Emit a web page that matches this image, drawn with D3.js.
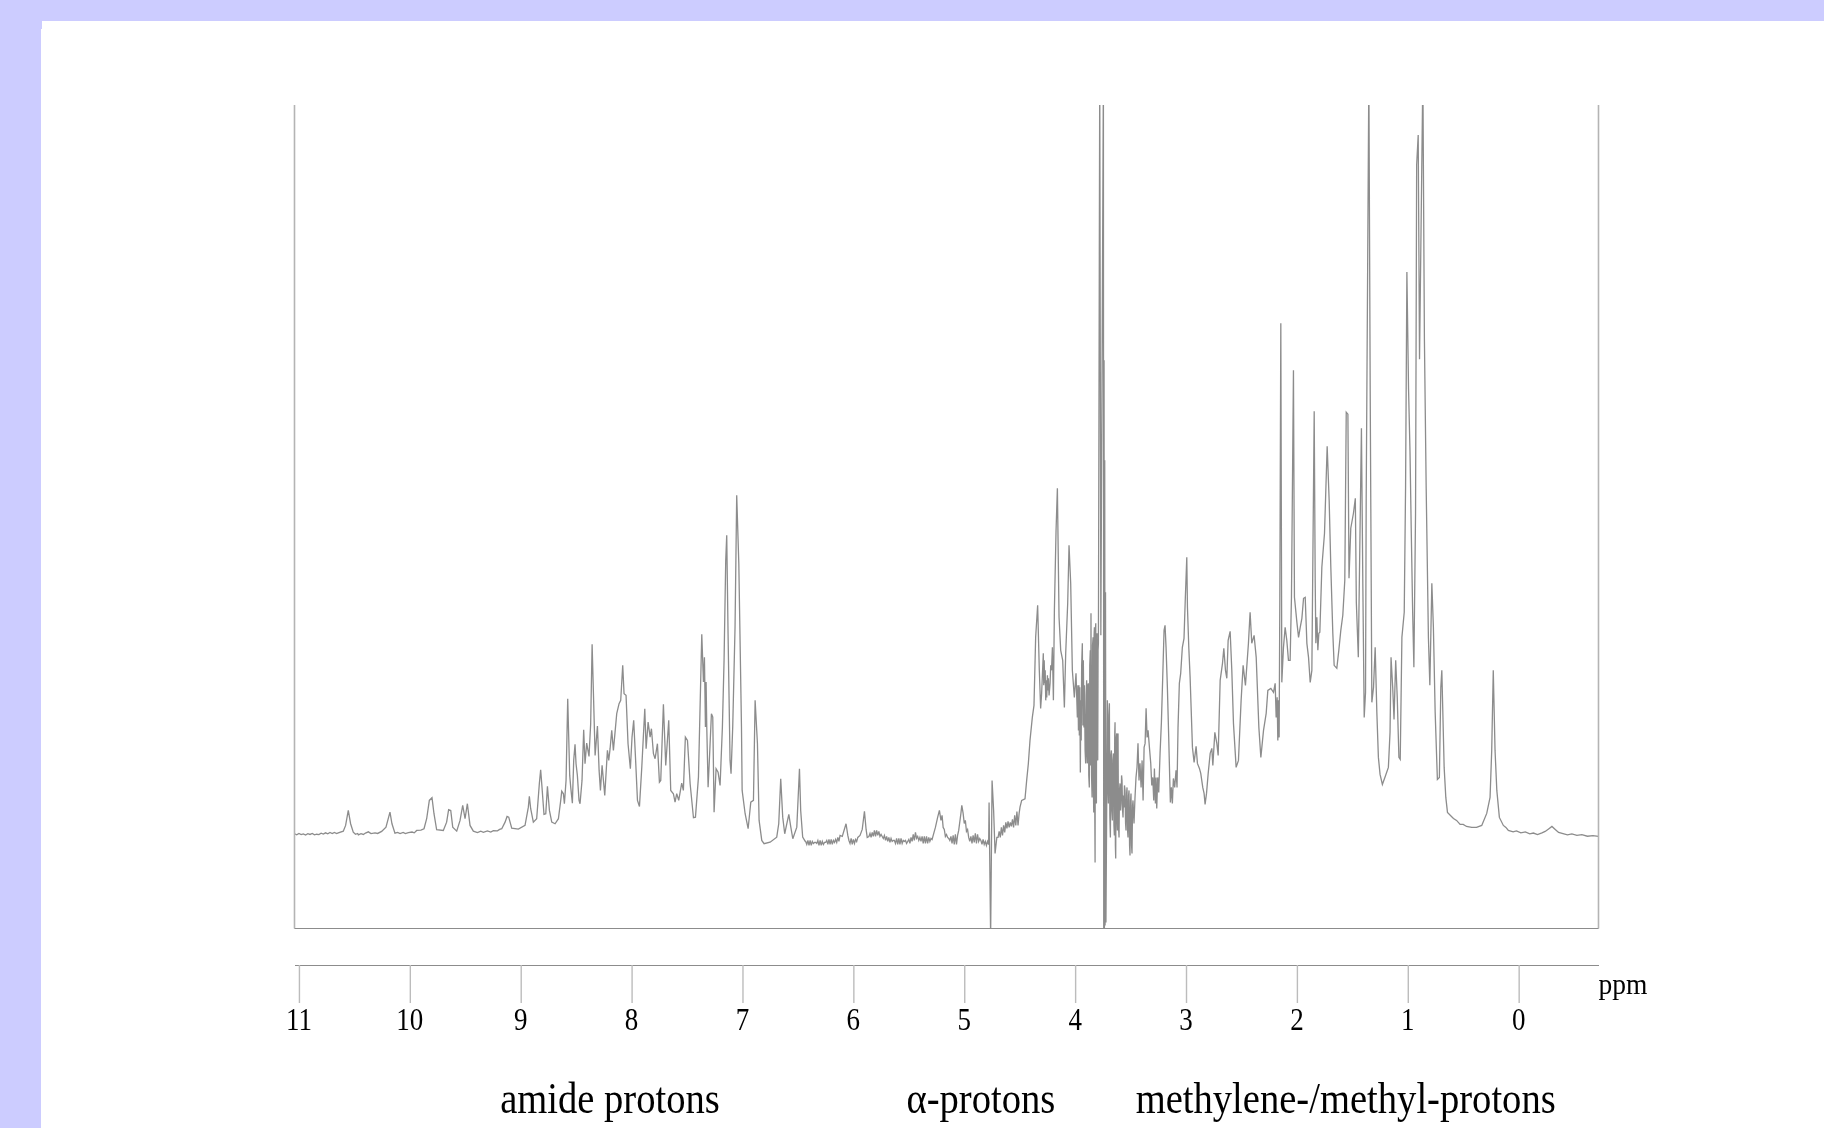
<!DOCTYPE html>
<html lang="en">
    <head>
        <meta charset="utf-8"/>
        <script src="https://d3js.org/d3.v7.min.js"></script>
        <style>
            html, body { margin: 0; padding: 0; background: #ccccff; overflow: hidden; }
            svg { display: block; }
        </style>
    </head>
    <body>
        <main>
            <div id="chart"></div>
        </main>
    </body>
    <script>
        // 1H NMR spectrum, values as [ppm, intensity]
        var amideRegion = [
            [11.04,1.7],[11.02,0.6],[11,2],[10.98,0.8],[10.96,1.6],[10.94,0.4],[10.92,1.8],[10.9,1],[10.88,2],[10.86,0.6],[10.84,1.2],[10.82,0.8],[10.8,2.2],[10.78,1.4],
            [10.76,2.6],[10.74,1.6],[10.72,2.9],[10.7,1.8],[10.68,3],[10.66,1.8],[10.645,2.6],[10.6,4.3],[10.579,10],[10.555,25],
            [10.534,11.7],[10.51,3.3],[10.49,1.2],[10.47,2],[10.464,0.6],[10.44,1.8],[10.419,1],[10.4,2.4],[10.374,3.6],[10.35,1.8],[10.314,2.6],[10.29,2],[10.254,4],[10.215,8.3],[10.179,23.3],[10.161,11.7],
            [10.134,2.3],[10.11,3],[10.088,1.8],[10.06,3],[10.04,1.8],[10.013,2.8],[9.98,3.4],[9.96,2.6],[9.938,5],[9.9,5.4],[9.872,6.7],[9.848,16.7],[9.824,35],[9.8,37.7],[9.782,21.7],[9.758,5.7],
            [9.698,5],[9.668,13.3],[9.65,25.7],[9.631,25],[9.613,8.3],[9.577,4.3],[9.547,15],[9.523,30],[9.502,16.7],[9.481,31.7],
            [9.457,10],[9.427,4.3],[9.39,2.8],[9.36,4.2],[9.337,3.2],[9.3,4.6],[9.27,3.4],[9.247,4.8],[9.21,4.6],[9.19,6],[9.171,6.7],[9.141,13.3],[9.123,19],[9.108,18.3],[9.081,7.3],[9.021,6.3],
            [8.961,10],[8.931,28.3],[8.922,39],[8.91,26.7],[8.886,13.3],[8.856,16.7],[8.832,51.7],[8.82,65.7],[8.808,48.3],[8.79,21],
            [8.774,21.7],[8.759,49],[8.741,25],[8.72,13.3],[8.69,11.7],[8.66,16.7],[8.639,35],[8.63,44.3],[8.615,41.7],[8.606,31.7],
            [8.591,55],[8.576,136.7],[8.567,98.3],[8.558,60],[8.549,48.3],[8.534,32.3],[8.522,75],[8.51,91],[8.501,71.7],[8.489,60],
            [8.474,35],[8.465,31.7],[8.447,55],[8.432,105.7],[8.42,71.7],[8.405,92.3],[8.384,79],[8.369,111.7],[8.356,191],[8.344,141.7],
            [8.329,80],[8.308,109.3],[8.293,65],[8.281,45],[8.266,70],[8.242,40],[8.218,85],[8.206,75],[8.194,86.7],[8.179,105],
            [8.164,85],[8.134,121.7],[8.113,131.7],[8.098,135],[8.08,170],[8.068,141.7],[8.05,140],[8.032,91.7],[8.011,66.7],[7.996,98.3],
            [7.981,115],[7.965,78.3],[7.947,35],[7.929,29],[7.908,68.3],[7.881,126.7],[7.869,86.7],[7.851,113.3],[7.833,98.3],[7.821,106.7],
            [7.803,81.7],[7.788,76.7],[7.767,91.7],[7.749,53.3],[7.737,55],[7.713,131],[7.692,70],[7.665,115],[7.647,45],[7.623,41.7],
            [7.608,33.3],[7.593,41.7],[7.575,35],[7.548,52.3],[7.533,45],[7.515,98.3],[7.496,95],[7.472,51.7],[7.442,17.7],[7.424,18.3],
            [7.397,58.3],[7.367,201],[7.352,153.3],[7.343,178],[7.334,108.3],[7.328,153.3],[7.322,108.3],[7.31,48.3],[7.298,76.7],[7.28,121.7],
            [7.268,118.3],[7.256,23.3],[7.238,66.7],[7.22,63.3],[7.202,50],[7.181,108.3],[7.166,175],[7.151,275],[7.142,300],[7.13,201.7],
            [7.112,75],[7.103,61.7],[7.088,108.3],[7.067,208.3],[7.052,340],[7.033,271.7],[7.009,108.3],[7.003,45],[6.976,21.7],[6.949,6.7],
            [6.925,33.3],[6.901,35],[6.886,135],[6.865,91.7],[6.85,15],[6.826,-5],[6.805,-8.3],[6.751,-6.7],[6.691,-1.7],[6.673,11.7],
            [6.655,56.7],[6.637,18.3],[6.619,1.7],[6.6,11.7],[6.582,21],[6.564,8.3],[6.546,-3.3],[6.51,8.3],[6.486,66.7],[6.475,25],
            [6.457,-1.7],[6.435,-5.7]
        ];

        var alphaRegion = [
            [6.43,-6],[6.42,-9],[6.41,-5],[6.4,-10],[6.39,-5],[6.38,-10],[6.37,-6],[6.36,-8],[6.35,-7],[6.34,-7],[6.33,-8],[6.32,-5],
            [6.31,-10],[6.3,-5],[6.29,-10],[6.28,-6],[6.27,-9],[6.26,-7],[6.25,-7],[6.24,-5],[6.23,-9],[6.22,-4],[6.21,-9],[6.2,-4],
            [6.19,-9],[6.18,-5],[6.17,-7],[6.16,-4],[6.15,-7],[6.14,-2],[6.13,-6],[6.12,0],[6.1,-1],[6.066,11.7],[6.05,0],[6.04,-5],
            [6.03,-8],[6.02,-3],[6.01,-9],[6,-4],[5.99,-8],[5.98,-4],[5.97,-6],[5.96,-2],[5.94,0],[5.92,6],[5.9,24],[5.885,6],
            [5.875,-2],[5.86,-1],[5.85,2],[5.84,-2],[5.83,3],[5.82,-1],[5.81,5],[5.8,-1],[5.79,5],[5.78,0],[5.77,4],[5.76,-1],
            [5.75,1],[5.74,-1],[5.73,-3],[5.72,0],[5.71,-5],[5.7,-1],[5.69,-6],[5.68,-2],[5.67,-7],[5.66,-3],[5.65,-6],[5.64,-5],
            [5.63,-5],[5.62,-8],[5.61,-3],[5.6,-9],[5.59,-3],[5.58,-9],[5.57,-3],[5.56,-8],[5.55,-5],[5.54,-6],[5.53,-5],[5.52,-8],
            [5.51,-6],[5.5,-4],[5.49,-8],[5.48,-2],[5.47,-6],[5.46,1],[5.45,-5],[5.44,3],[5.43,-3],[5.42,-1],[5.41,-5],[5.4,-2],
            [5.39,-6],[5.38,-1],[5.37,-8],[5.36,-1],[5.35,-8],[5.34,-1],[5.33,-8],[5.32,-2],[5.31,-6],[5.3,-3],[5.29,-4],[5.28,0],
            [5.26,8],[5.24,18],[5.224,25],[5.21,15],[5.2,20],[5.19,8],[5.18,6],[5.17,-1],[5.16,1],[5.15,-2],[5.14,-3],[5.13,-5],
            [5.12,-1],[5.11,-8],[5.1,0],[5.09,-9],[5.08,1],[5.07,-9],[5.06,0],[5.05,5],[5.03,22],[5.022,30],[5.01,22],[5,12],
            [4.99,15],[4.98,4],[4.97,6],[4.96,-2],[4.95,-6],[4.94,-1],[4.93,-8],[4.92,0],[4.91,-7],[4.9,2],[4.89,-8],[4.88,1],
            [4.87,-6],[4.86,-3],[4.85,-5],[4.84,-9],[4.83,-4],[4.82,-9],[4.81,-6],[4.8,-10],[4.79,-6],[4.78,-9],[4.776,33],[4.762,-100],
            [4.749,55],[4.735,25],[4.722,-18],[4.706,-2],[4.695,-2],[4.685,4],[4.675,-2],[4.665,8],[4.655,0],[4.645,10],[4.635,3],[4.625,13],
            [4.615,7],[4.605,14],[4.595,8],[4.585,13],[4.575,9],[4.565,16],[4.555,8],[4.545,20],[4.535,10],[4.525,24],[4.515,10],[4.505,22],
            [4.497,28.3],[4.482,35],[4.452,36.7],[4.437,55],[4.422,71.7],[4.407,95],[4.386,118],[4.371,130],[4.356,198],[4.338,230],
            [4.323,165],[4.311,127],[4.302,142],[4.287,182],[4.283,150],[4.279,175],[4.274,152],[4.27,165],[4.265,135],[4.26,155],
            [4.256,138],[4.25,160],[4.245,145],[4.241,157],[4.235,140],[4.226,152],[4.22,170],[4.213,165],[4.205,188],[4.196,135],
            [4.187,225],[4.172,305],[4.16,347],[4.145,218],[4.13,185],[4.112,175],[4.097,128],[4.085,182],[4.067,232],[4.055,290],
            [4.04,252],[4.025,165],[4.007,138],[3.992,162],[3.98,118],[3.975,150],[3.97,105],[3.966,150],[3.962,100],[3.958,148],
            [3.953,63],[3.949,135],[3.945,95],[3.941,170],[3.935,192],[3.93,110],[3.926,175],[3.92,108],[3.916,150],[3.91,85],
            [3.905,72],[3.9,140],[3.896,155],[3.893,80],[3.89,72],[3.885,150],[3.881,152],[3.877,60],[3.872,48],[3.868,170],
            [3.863,185],[3.86,70],[3.857,222],[3.852,60],[3.847,38],[3.843,190],[3.838,198],[3.835,45],[3.832,23],[3.829,200],
            [3.826,208],[3.823,30],[3.82,-27],[3.817,205],[3.814,212],[3.811,50],[3.808,32],[3.805,195],[3.802,202],[3.799,80],
            [3.796,75],[3.793,185],[3.79,192],[3.778,760],[3.768,200],[3.745,760],[3.742,-100],[3.739,475],[3.736,-100],[3.733,375],
            [3.73,-90],[3.726,243],[3.722,-87],[3.709,135],[3.705,50],[3.7,32],[3.696,120],[3.691,132],[3.687,20],[3.682,-2],
            [3.678,80],[3.673,85],[3.669,25],[3.664,15],[3.66,75],[3.655,82],[3.65,10],[3.646,0],[3.643,100],[3.64,113],
            [3.637,-10],[3.634,-23],[3.63,95],[3.625,102],[3.622,15],[3.619,5],[3.616,95],[3.613,102],[3.609,10],[3.604,-2],
            [3.6,45],[3.595,52],[3.59,25],[3.586,32],[3.581,60],[3.577,55],[3.572,25],[3.568,18],[3.563,40],[3.559,28],
            [3.555,50],[3.55,45],[3.545,12],[3.541,5],[3.536,42],[3.532,48],[3.527,5],[3.523,-2],[3.518,40],[3.514,45],
            [3.509,-10],[3.505,-20],[3.5,35],[3.496,42],[3.491,-10],[3.487,-18],[3.482,30],[3.478,35],[3.469,12],[3.46,38],
            [3.451,58],[3.442,68],[3.433,92],[3.424,55],[3.415,72],[3.405,48],[3.396,75],[3.387,35],[3.378,88],[3.369,92],
            [3.36,127],[3.351,98],[3.342,105],[3.33,88],[3.318,72],[3.309,50],[3.3,58],[3.291,35],[3.285,67],[3.276,32],
            [3.27,58],[3.264,27],[3.255,58],[3.246,43],[3.234,82],[3.222,113],[3.21,158],[3.198,205],[3.189,210],[3.18,188],
            [3.168,148],[3.156,98],[3.147,58],[3.141,33],[3.132,48],[3.123,32],[3.114,57],[3.102,48],[3.09,65],[3.081,48],
            [3.072,108],[3.06,152],[3.048,162],[3.033,188],[3.018,197],[3.006,238]
        ];

        var aliphaticRegion = [
            [2.993,278],[2.987,228],[2.975,188],[2.963,158],[2.954,128],[2.942,88],[2.927,73],[2.909,89],[2.897,72],[2.879,67],
            [2.867,62],[2.849,48],[2.837,42],[2.828,31],[2.815,42],[2.8,62],[2.782,82],[2.767,87],[2.758,70],[2.74,103],
            [2.722,92],[2.71,80],[2.692,155],[2.671,172],[2.659,187],[2.644,165],[2.632,157],[2.62,195],[2.602,204],[2.587,165],
            [2.572,112],[2.548,68],[2.527,75],[2.503,135],[2.485,170],[2.464,150],[2.437,192],[2.422,223],[2.407,192],[2.386,200],
            [2.367,178],[2.343,108],[2.325,78],[2.301,105],[2.277,122],[2.262,145],[2.235,147],[2.211,143],[2.196,152],[2.187,118],
            [2.178,138],[2.172,95],[2.166,135],[2.16,98],[2.154,237],[2.145,512],[2.136,153],[2.121,188],[2.106,208],[2.091,195],
            [2.076,175],[2.061,175],[2.049,238],[2.031,465],[2.022,238],[2,213],[1.985,198],[1.97,208],[1.955,217],[1.94,237],
            [1.925,238],[1.91,192],[1.895,178],[1.88,153],[1.865,165],[1.844,424],[1.835,255],[1.829,192],[1.82,218],[1.811,185],
            [1.802,202],[1.793,203],[1.775,268],[1.751,302],[1.727,389],[1.709,335],[1.694,268],[1.676,202],[1.664,170],[1.64,167],
            [1.622,185],[1.604,205],[1.586,220],[1.568,255],[1.555,423],[1.54,421],[1.53,257],[1.514,307],[1.49,322],[1.473,337],
            [1.464,233],[1.446,178],[1.418,407],[1.405,247],[1.393,118],[1.381,143],[1.375,337],[1.351,760],[1.339,446],[1.324,133],
            [1.309,148],[1.294,188],[1.279,123],[1.265,78],[1.25,61],[1.229,51],[1.205,58.5],[1.175,68],[1.16,103],[1.151,178],
            [1.136,148],[1.124,116],[1.109,175],[1.095,138],[1.08,78],[1.068,76],[1.053,198],[1.032,223],[1.02,347],[1.008,563],
            [0.993,446],[0.98,384],[0.969,307],[0.956,223],[0.945,168],[0.93,322],[0.92,670],[0.906,700],[0.894,476],[0.864,760],
            [0.85,496],[0.834,347],[0.814,198],[0.801,150],[0.783,252],[0.769,208],[0.753,123],[0.733,56],[0.715,58],[0.702,148],
            [0.693,165],[0.672,68],[0.657,38],[0.642,23],[0.615,20],[0.588,17],[0.56,15],[0.528,11],[0.5,11],[0.47,9],[0.423,8],[0.38,8],
            [0.333,10],[0.288,22],[0.258,38],[0.243,85],[0.229,165],[0.213,85],[0.197,45],[0.174,18],[0.138,10],[0.115,8],[0.093,5],[0.05,3.5],
            [0.02,4.5],[-0.02,2.5],[-0.06,3.5],[-0.1,1.6],[-0.133,2.4],[-0.17,0.8],[-0.21,2.5],[-0.239,4],[-0.27,6.5],[-0.3,9],[-0.33,6],[-0.36,3],
            [-0.4,1.8],[-0.44,0.6],[-0.48,1.5],[-0.525,0],[-0.57,0.8],[-0.62,-0.8],[-0.67,-0.2],[-0.72,-1]
        ];

        var tickValues = [11, 10, 9, 8, 7, 6, 5, 4, 3, 2, 1, 0];
        var regionLabels = ["amide protons", "α-protons", "methylene-/methyl-protons"];
        var regionCenters = [8.195, 4.85, 1.56];
        var unitLabel = "ppm";

        var width = 1824;
        var height = 1128;
        var margin = {top: 105, right: 225.5, bottom: 199.5, left: 294.5};
        var axisY = 965;

        var svg = d3.select("#chart")
            .append("svg")
                .attr("width", width)
                .attr("height", height)

        // the reference is a scaled bitmap, everything is slightly soft
        var defs = svg.append("defs")
        defs.append("filter").attr("id", "soft")
            .attr("filterUnits", "userSpaceOnUse")
            .attr("x", 0).attr("y", 0).attr("width", width).attr("height", height)
            .append("feGaussianBlur").attr("stdDeviation", 0.5)
        defs.append("filter").attr("id", "soft-text")
            .attr("filterUnits", "userSpaceOnUse")
            .attr("x", 0).attr("y", 0).attr("width", width).attr("height", height)
            .append("feGaussianBlur").attr("stdDeviation", 0.3)

        // page background: lilac with white panel
        svg.append("rect").attr("width", width).attr("height", height).attr("fill", "#ccccff")
        svg.append("rect").attr("x", 42).attr("y", 21).attr("width", width - 42).attr("height", height - 21).attr("fill", "white")
        svg.append("rect").attr("x", 41).attr("y", 29).attr("width", 2).attr("height", height - 29).attr("fill", "white")

        var x = d3.scaleLinear()
            .domain([11.04, -0.72])
            .range([margin.left, width - margin.right])

        var y = d3.scaleLinear()
            .domain([-93, 730])
            .range([height - margin.bottom, margin.top])

        defs.append("clipPath").attr("id", "plot-clip")
            .append("rect")
                .attr("x", x.range()[0])
                .attr("y", y.range()[1])
                .attr("width", x.range()[1] - x.range()[0])
                .attr("height", y.range()[0] - y.range()[1])

        var spectrum = amideRegion.concat(alphaRegion, aliphaticRegion)

        var line = d3.line()
            .x(function (d) { return x(d[0]); })
            .y(function (d) { return y(d[1]); })

        svg.append("g")
            .attr("clip-path", "url(#plot-clip)")
            .append("path")
                .datum(spectrum)
                .attr("filter", "url(#soft)")
                .attr("fill", "none")
                .attr("stroke", "#8c8c8c")
                .attr("stroke-width", 1.3)
                .attr("d", line)

        // frame: two sides and the floor
        svg.append("line")
            .attr("x1", x.range()[0]).attr("x2", x.range()[0])
            .attr("y1", y.range()[1]).attr("y2", y.range()[0])
            .attr("stroke", "#b4b4b4").attr("stroke-width", 1.6)
        svg.append("line")
            .attr("x1", x.range()[1]).attr("x2", x.range()[1])
            .attr("y1", y.range()[1]).attr("y2", y.range()[0])
            .attr("stroke", "#b4b4b4").attr("stroke-width", 1.6)
        svg.append("line")
            .attr("x1", x.range()[0]).attr("x2", x.range()[1])
            .attr("y1", y.range()[0]).attr("y2", y.range()[0])
            .attr("stroke", "#8c8c8c").attr("stroke-width", 1.2)

        // ppm axis, ticks hang down from the line
        var axis = svg.append("g")
            .attr("transform", "translate(0," + axisY + ")")
            .call(d3.axisBottom(x).tickValues(tickValues).tickSize(38).tickSizeOuter(0).tickPadding(5))

        axis.select(".domain").attr("stroke", "#8c8c8c").attr("stroke-width", 1.2)
        axis.selectAll(".tick line").attr("stroke", "#bcbcbc").attr("stroke-width", 1.4)
        axis.selectAll(".tick text").remove()

        var font = "'Liberation Serif', serif";

        var labels = svg.append("g").attr("filter", "url(#soft-text)").attr("fill", "#000")

        labels.selectAll(".tick-label")
            .data(tickValues)
            .enter()
            .append("text")
            .attr("class", "tick-label")
            .attr("transform", function (d) { return "translate(" + x(d) + ",1030) scale(1,1.15)"; })
            .attr("text-anchor", "middle")
            .style("font-family", font)
            .style("font-size", "27px")
            .text(function (d) { return d; })

        labels.append("text")
            .attr("transform", "translate(" + x(-0.72) + ",994) scale(1,1.1)")
            .style("font-family", font)
            .style("font-size", "27.5px")
            .text(unitLabel)

        labels.selectAll(".region-label")
            .data(regionLabels)
            .enter()
            .append("text")
            .attr("class", "region-label")
            .attr("transform", function (d, i) { return "translate(" + x(regionCenters[i]) + ",1113) scale(1,1.15)"; })
            .attr("text-anchor", "middle")
            .style("font-family", font)
            .style("font-size", "38.6px")
            .text(function (d) { return d; })

    </script>
</html>
